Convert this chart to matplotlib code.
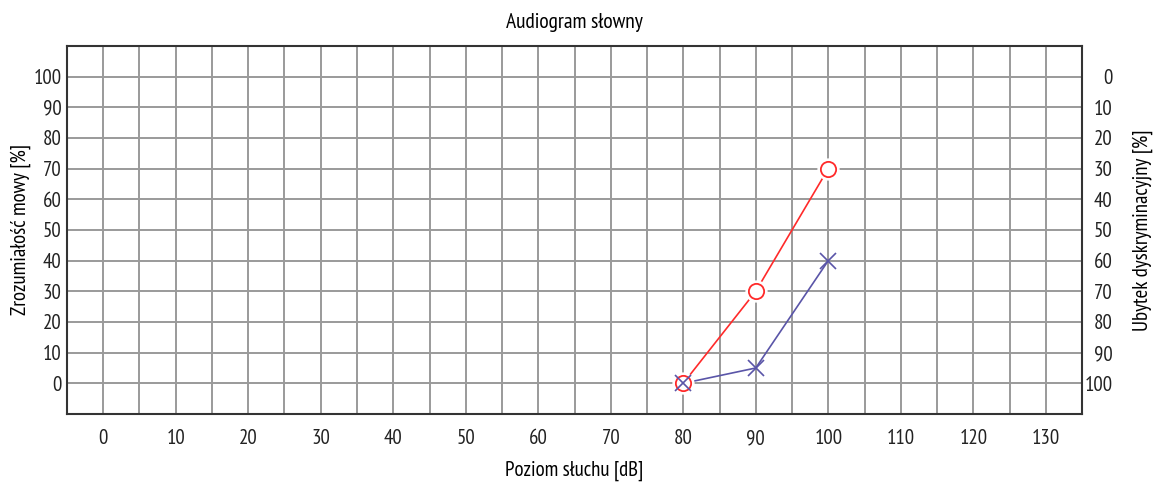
import matplotlib
matplotlib.use("Agg")
import matplotlib.pyplot as plt
import numpy as np

# speech audiogram data
levels_db = [80, 90, 100]
understanding = [0, 30, 70]      # red circles
discrimination = [0, 5, 40]      # blue crosses (left-axis scale)

x_ticks = list(range(0, 140, 10))
y_ticks = list(range(0, 110, 10))
right_labels = [str(100 - v) for v in y_ticks]

plt.rcParams["font.family"] = ["PT Sans Narrow", "DejaVu Sans"]

fig = plt.figure(figsize=(11.57, 4.82), dpi=100)
ax = fig.add_axes([0.0579, 0.1411, 0.8773, 0.7635])

ax.set_xlim(-5, 135)
ax.set_ylim(-10, 110)
ax.set_xticks(x_ticks)
ax.set_xticks(np.arange(5, 135, 10), minor=True)
ax.set_yticks(y_ticks)
ax.grid(True, which="both", axis="x", color="#9a9a9a", linewidth=1.4)
ax.grid(True, axis="y", color="#9a9a9a", linewidth=1.4)
ax.set_axisbelow(True)
ax.tick_params(which="both", length=0, labelsize=15, colors="#222222")
ax.tick_params(axis="x", pad=11)
ax.tick_params(axis="y", pad=4)
for s in ax.spines.values():
    s.set_color("#333333")
    s.set_linewidth(1.5)

ax.plot(levels_db, understanding, color="#ff2a2a", linewidth=1.2, zorder=3)
ax.plot(levels_db, understanding, linestyle="none", marker="o", markersize=15,
        markerfacecolor="white", markeredgecolor="white", zorder=4)
ax.plot(levels_db, discrimination, color="#5a55a8", linewidth=1.2, zorder=3)
ax.plot(levels_db, discrimination, linestyle="none", marker="x", markersize=11,
        markeredgewidth=1.2, color="#5a55a8", zorder=6)
ax.plot(levels_db, understanding, linestyle="none", marker="o", markersize=11,
        markerfacecolor="white", markeredgecolor="#ff2a2a", markeredgewidth=1.3,
        zorder=5)

ax.set_xlabel("Poziom słuchu [dB]", fontsize=15, labelpad=9)
ax.set_ylabel("Zrozumiałość mowy [%]", fontsize=15, labelpad=2)
ax.set_title("Audiogram słowny", fontsize=15.5, pad=13)

ax2 = ax.twinx()
ax2.set_ylim(ax.get_ylim())
ax2.set_yticks(y_ticks)
ax2.set_yticklabels(right_labels, ha="right")
ax2.tick_params(length=0, labelsize=15, colors="#222222", pad=22)
for s in ax2.spines.values():
    s.set_visible(False)
ax2.set_ylabel("Ubytek dyskryminacyjny [%]", fontsize=15, labelpad=14)

fig.savefig("out.png", dpi=100)
